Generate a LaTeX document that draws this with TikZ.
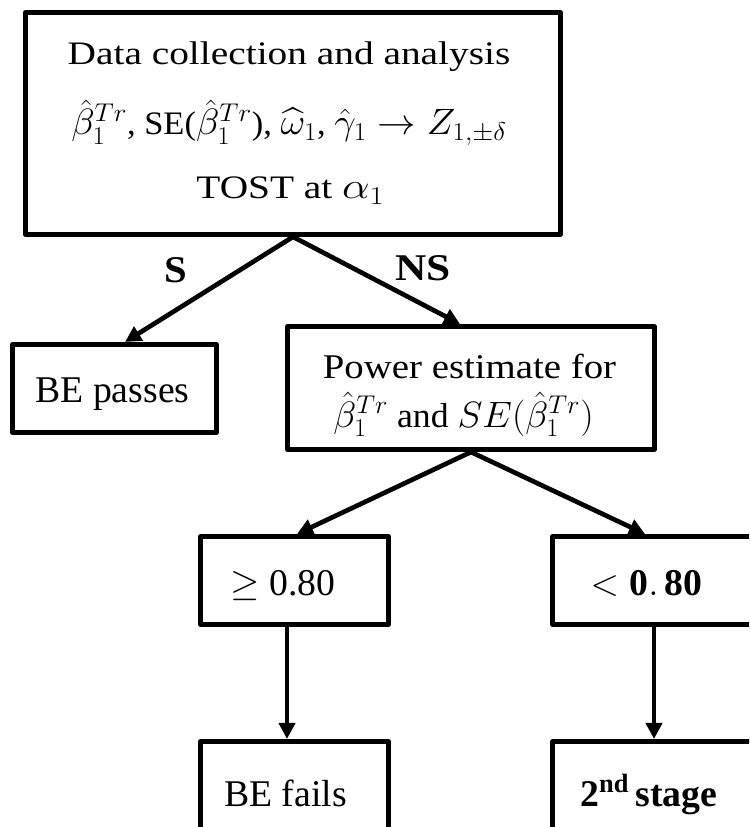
\RequirePackage{fix-cm}
\documentclass[tikz,border=0pt]{standalone}
\usepackage{fontspec}
\setmainfont{Liberation Serif}
\usepackage{amsmath,amssymb,graphicx}
\usetikzlibrary{arrows.meta,calc}
\tikzset{
  box/.style={draw, line width=4pt, line join=round, inner sep=0pt, anchor=center},
  conn/.style={line width=3.5pt, -{Triangle[length=12pt,width=12pt]}},
  txt/.style={inner sep=0pt, anchor=base},
  big/.style={font=\fontsize{28.3}{30}\selectfont},
  lbl/.style={inner sep=0pt, font=\fontsize{28.3}{30}\selectfont\bfseries},
}
\newcommand{\wide}[1]{\scalebox{1.2}[1]{#1}}
\newcommand{\pwide}[1]{\scalebox{1.12}[1]{#1}}
\newcommand{\mm}[1]{{\fontsize{27.5}{30}\selectfont$#1$}}
\begin{document}
\begin{tikzpicture}[x=0.75pt,y=-0.75pt]
\useasboundingbox (0,0) rectangle (749,827);
\clip (0,0) rectangle (749,827);

% boxes
\node[box, minimum width=401pt, minimum height=166pt] (top) at (293,123.5) {};
\node[box, minimum width=152.8pt, minimum height=65.8pt] (bepass) at (114.5,388.5) {};
\node[box, minimum width=275pt, minimum height=92pt] (power) at (471,388) {};
\node[box, minimum width=140.8pt, minimum height=65.8pt] (ge) at (294.5,580.5) {};
\node[box, minimum width=221pt, minimum height=65.8pt] (lt) at (700,580.5) {};
\node[box, minimum width=140.8pt, minimum height=116.8pt] (befail) at (294.5,819.5) {};
\node[box, minimum width=221pt, minimum height=116.8pt] (second) at (700,819.5) {};

% texts
\begin{scope}[every node/.append style={font=\fontsize{24.6}{30}\selectfont}]
\node[txt] (t1) at (289,65) {\wide{Data collection and analysis}};
\node[txt] (t2) at (289,135) {\scalebox{1.05}[1]{\mm{\hat{\beta}_1^{Tr}}, SE(\mm{\hat{\beta}_1^{Tr}}), \mm{\widehat{\omega}_1}, \mm{\hat{\gamma}_1 \rightarrow Z_{1,\pm\delta}}}};
\node[txt] (t3) at (290.5,199) {\wide{TOST at \mm{\alpha_1}}};
\end{scope}

\node[txt, big] (bepasstxt) at (112.5,402) {BE passes};

\begin{scope}[every node/.append style={font=\fontsize{26}{30}\selectfont}]
\node[txt] (p1) at (469.5,378) {\pwide{Power estimate for}};
\node[txt] (p2) at (463.5,427) {\scalebox{1.03}[1]{\mm{\hat{\beta}_1^{Tr}} and \mm{SE(\hat{\beta}_1^{Tr})}}};
\end{scope}

\node[txt, big] (getxt) at (283,595) {$\geq$ 0.80};
\node[txt, big, anchor=base west] (lttxt) at (590,595) {$<\mathbf{0.\,80}$};
\node[txt, big] (befailtxt) at (285.5,806) {BE fails};
\node[txt, big, anchor=base west] (secondtxt) at (580,806) {\bfseries 2\textsuperscript{nd}\,stage};

\node[lbl] (S) at (176,270) {\scalebox{1.08}[1]{S}};
\node[lbl] (NS) at (423,268) {\scalebox{1.15}[1]{NS}};

% connectors
\draw[conn] (top.south) -- ($(bepass.north)+(10.5,0)$);
\draw[conn] (top.south) -- ($(power.north)+(-11,0)$);
\draw[conn] (power.south) -- ($(ge.north)+(2.5,0)$);
\draw[conn] (power.south) -- ($(lt.north west)+(95,0)$);
\draw[conn] ($(ge.south)+(-7.5,0)$) -- ($(befail.north)+(-7.5,0)$);
\draw[conn] ($(lt.south west)+(104,0)$) -- ($(second.north west)+(104,0)$);
\end{tikzpicture}
\end{document}
